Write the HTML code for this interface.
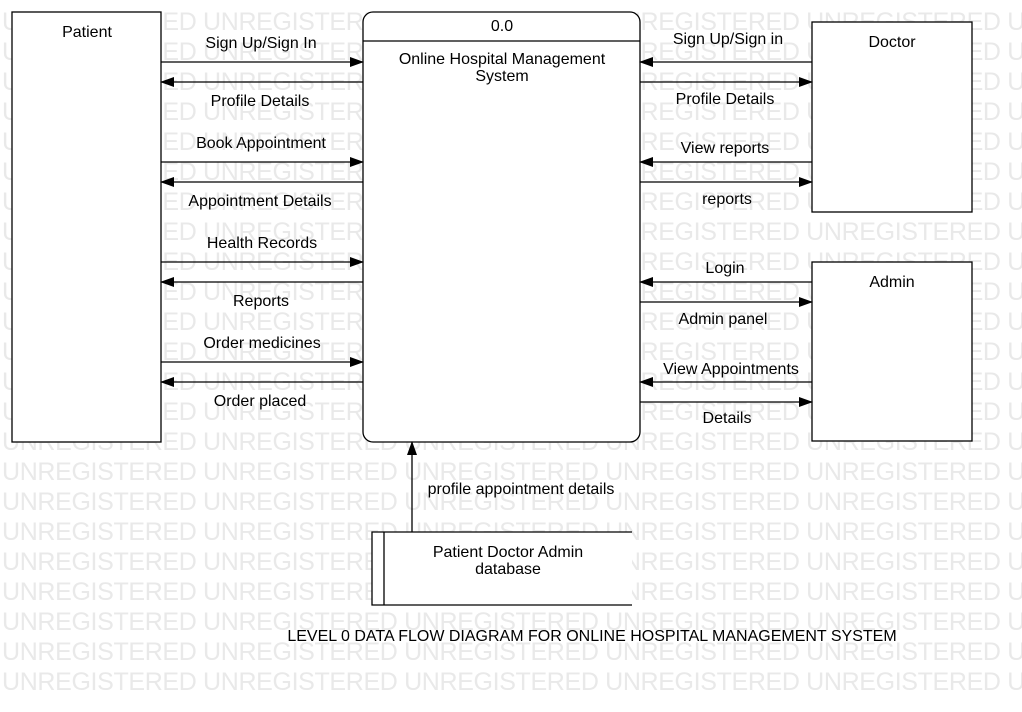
<!DOCTYPE html>
<html><head><meta charset="utf-8"><style>
html,body{margin:0;padding:0;background:#fff;}
svg{display:block;}
text{font-family:"Liberation Sans",sans-serif;}
</style></head><body>
<svg width="1022" height="712" viewBox="0 0 1022 712" xmlns="http://www.w3.org/2000/svg">
<defs>
<marker id="a" markerWidth="14" markerHeight="10" refX="13" refY="5" orient="auto" markerUnits="userSpaceOnUse">
<path d="M0,0 L14,5 L0,10 Z" fill="#000"/></marker>
</defs>
<g fill="#e9e9e9" font-size="25">
<text x="2" y="30" textLength="1200">UNREGISTERED UNREGISTERED UNREGISTERED UNREGISTERED UNREGISTERED UNREGISTERED</text>
<text x="2" y="60" textLength="1200">UNREGISTERED UNREGISTERED UNREGISTERED UNREGISTERED UNREGISTERED UNREGISTERED</text>
<text x="2" y="90" textLength="1200">UNREGISTERED UNREGISTERED UNREGISTERED UNREGISTERED UNREGISTERED UNREGISTERED</text>
<text x="2" y="120" textLength="1200">UNREGISTERED UNREGISTERED UNREGISTERED UNREGISTERED UNREGISTERED UNREGISTERED</text>
<text x="2" y="150" textLength="1200">UNREGISTERED UNREGISTERED UNREGISTERED UNREGISTERED UNREGISTERED UNREGISTERED</text>
<text x="2" y="180" textLength="1200">UNREGISTERED UNREGISTERED UNREGISTERED UNREGISTERED UNREGISTERED UNREGISTERED</text>
<text x="2" y="210" textLength="1200">UNREGISTERED UNREGISTERED UNREGISTERED UNREGISTERED UNREGISTERED UNREGISTERED</text>
<text x="2" y="240" textLength="1200">UNREGISTERED UNREGISTERED UNREGISTERED UNREGISTERED UNREGISTERED UNREGISTERED</text>
<text x="2" y="270" textLength="1200">UNREGISTERED UNREGISTERED UNREGISTERED UNREGISTERED UNREGISTERED UNREGISTERED</text>
<text x="2" y="300" textLength="1200">UNREGISTERED UNREGISTERED UNREGISTERED UNREGISTERED UNREGISTERED UNREGISTERED</text>
<text x="2" y="330" textLength="1200">UNREGISTERED UNREGISTERED UNREGISTERED UNREGISTERED UNREGISTERED UNREGISTERED</text>
<text x="2" y="360" textLength="1200">UNREGISTERED UNREGISTERED UNREGISTERED UNREGISTERED UNREGISTERED UNREGISTERED</text>
<text x="2" y="390" textLength="1200">UNREGISTERED UNREGISTERED UNREGISTERED UNREGISTERED UNREGISTERED UNREGISTERED</text>
<text x="2" y="420" textLength="1200">UNREGISTERED UNREGISTERED UNREGISTERED UNREGISTERED UNREGISTERED UNREGISTERED</text>
<text x="2" y="450" textLength="1200">UNREGISTERED UNREGISTERED UNREGISTERED UNREGISTERED UNREGISTERED UNREGISTERED</text>
<text x="2" y="480" textLength="1200">UNREGISTERED UNREGISTERED UNREGISTERED UNREGISTERED UNREGISTERED UNREGISTERED</text>
<text x="2" y="510" textLength="1200">UNREGISTERED UNREGISTERED UNREGISTERED UNREGISTERED UNREGISTERED UNREGISTERED</text>
<text x="2" y="540" textLength="1200">UNREGISTERED UNREGISTERED UNREGISTERED UNREGISTERED UNREGISTERED UNREGISTERED</text>
<text x="2" y="570" textLength="1200">UNREGISTERED UNREGISTERED UNREGISTERED UNREGISTERED UNREGISTERED UNREGISTERED</text>
<text x="2" y="600" textLength="1200">UNREGISTERED UNREGISTERED UNREGISTERED UNREGISTERED UNREGISTERED UNREGISTERED</text>
<text x="2" y="630" textLength="1200">UNREGISTERED UNREGISTERED UNREGISTERED UNREGISTERED UNREGISTERED UNREGISTERED</text>
<text x="2" y="660" textLength="1200">UNREGISTERED UNREGISTERED UNREGISTERED UNREGISTERED UNREGISTERED UNREGISTERED</text>
<text x="2" y="690" textLength="1200">UNREGISTERED UNREGISTERED UNREGISTERED UNREGISTERED UNREGISTERED UNREGISTERED</text>
</g>
<g fill="#fff" stroke="#000" stroke-width="1.3">
<rect x="12" y="12" width="149" height="430"/>
<rect x="363" y="12" width="277" height="430" rx="10"/>
<rect x="812" y="22" width="160" height="190"/>
<rect x="812" y="262" width="160" height="179"/>
<path d="M632,532 H372 V605 H632 M384,532 V605" />
<path d="M363,41 H640" fill="none"/>
</g>
<g stroke="#000" stroke-width="1.3" marker-end="url(#a)">
<line x1="161" y1="62" x2="363" y2="62"/><line x1="363" y1="82" x2="161" y2="82"/>
<line x1="161" y1="162" x2="363" y2="162"/><line x1="363" y1="182" x2="161" y2="182"/>
<line x1="161" y1="262" x2="363" y2="262"/><line x1="363" y1="282" x2="161" y2="282"/>
<line x1="161" y1="362" x2="363" y2="362"/><line x1="363" y1="382" x2="161" y2="382"/>
<line x1="812" y1="62" x2="640" y2="62"/><line x1="640" y1="82" x2="812" y2="82"/>
<line x1="812" y1="162" x2="640" y2="162"/><line x1="640" y1="182" x2="812" y2="182"/>
<line x1="812" y1="282" x2="640" y2="282"/><line x1="640" y1="302" x2="812" y2="302"/>
<line x1="812" y1="382" x2="640" y2="382"/><line x1="640" y1="402" x2="812" y2="402"/>
<line x1="412" y1="532" x2="412" y2="442"/>
</g>
<g font-size="16" fill="#000" text-anchor="middle">
<text x="87" y="37">Patient</text>
<text x="502" y="31">0.0</text>
<text x="502" y="64">Online Hospital Management</text>
<text x="502" y="81">System</text>
<text x="892" y="47">Doctor</text>
<text x="892" y="287">Admin</text>
<text x="508" y="557">Patient Doctor Admin</text>
<text x="508" y="574">database</text>
<text x="261" y="48">Sign Up/Sign In</text>
<text x="260" y="106">Profile Details</text>
<text x="261" y="148">Book Appointment</text>
<text x="260" y="206">Appointment Details</text>
<text x="262" y="248">Health Records</text>
<text x="261" y="306">Reports</text>
<text x="262" y="348">Order medicines</text>
<text x="260" y="406">Order placed</text>
<text x="728" y="44">Sign Up/Sign in</text>
<text x="725" y="104">Profile Details</text>
<text x="725" y="153">View reports</text>
<text x="727" y="204">reports</text>
<text x="725" y="273">Login</text>
<text x="723" y="324">Admin panel</text>
<text x="731" y="374">View Appointments</text>
<text x="727" y="423">Details</text>
<text x="521" y="494">profile appointment details</text>
<text x="592" y="641">LEVEL 0 DATA FLOW DIAGRAM FOR ONLINE HOSPITAL MANAGEMENT SYSTEM</text>
</g>
</svg>
</body></html>
